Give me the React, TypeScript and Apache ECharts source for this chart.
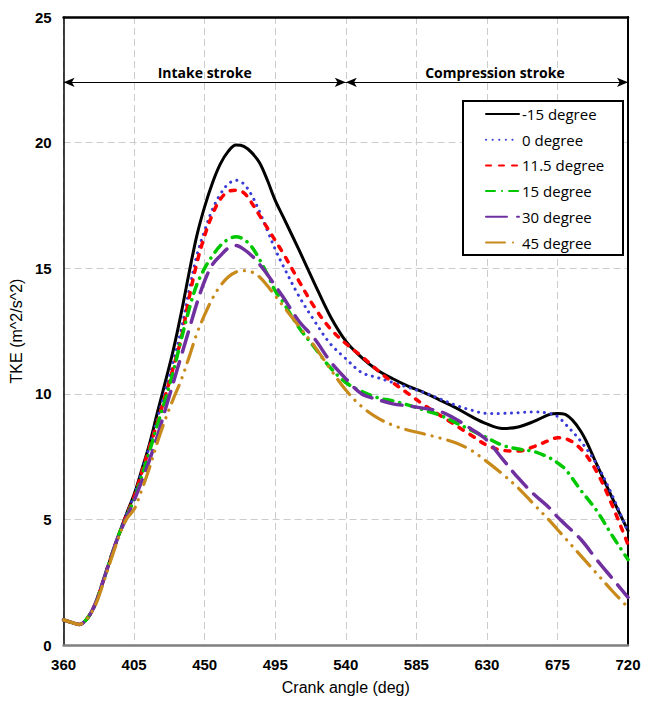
import React, { useEffect, useRef } from "react";
import * as echarts from "echarts";

const angles = [360,365,370,375,380,385,390,395,400,405,410,415,420,425,430,435,440,445,450,455,460,465,470,475,480,485,490,495,500,510,520,530,540,550,560,570,580,590,600,610,620,630,640,650,660,670,675,680,690,700,710,720];

const seriesNames = ["-15 degree", "0 degree", "11.5 degree", "15 degree", "30 degree", "45 degree"];

const tkeM15 = [1.0,0.9,0.82,1.05,1.6,2.5,3.45,4.35,5.2, 6.0,7.0,8.05,9.3,10.5,11.75,13.2,14.8,16.3,17.45,18.4,19.15,19.65,19.9,19.85,19.6,19.2,18.5,17.7,17.05, 15.75,14.4,13.1,12.1,11.45,10.95,10.6,10.3,10.05,9.75,9.45,9.1,8.8,8.62,8.68,8.9,9.18, 9.22,9.18,8.5,7.2,5.85,4.55];
const tke0 = [1.0,0.9,0.82,1.05,1.6,2.5,3.45,4.35,5.2, 5.95,6.95,7.95,9.05,10.15,11.3,12.55,14.1,15.5,16.5,17.35,17.95,18.35,18.5,18.35,17.9,17.25,16.5,15.75,15.1, 13.9,12.9,12.0,11.4,10.85,10.65,10.45,10.25,10.05,9.8,9.55,9.35,9.22,9.22,9.25,9.28,9.22, 9.1,8.8,8.1,7.2,5.95,4.5];
const tke115 = [1.0,0.9,0.82,1.05,1.6,2.5,3.45,4.35,5.15, 5.9,6.9,7.9,8.9,9.95,11.05,12.2,13.8,15.2,16.3,17.15,17.75,18.05,18.1,18.0,17.6,17.1,16.6,16.1,15.6, 14.5,13.45,12.6,12.0,11.5,10.95,10.45,10.0,9.55,9.15,8.75,8.35,7.95,7.75,7.72,7.9,8.15, 8.25,8.22,7.8,6.9,5.55,4.0];
const tke15 = [1.0,0.9,0.82,1.05,1.6,2.5,3.45,4.35,5.1, 5.8,6.75,7.75,8.8,9.8,10.9,12.15,13.35,14.35,15.0,15.5,15.9,16.15,16.25,16.15,15.85,15.35,14.75,14.1,13.65, 12.65,11.85,11.05,10.45,10.1,9.85,9.72,9.55,9.35,9.15,8.85,8.55,8.25,7.95,7.8,7.7,7.45, 7.25,7.0,6.15,5.35,4.35,3.4];
const tke30 = [1.0,0.9,0.82,1.05,1.6,2.5,3.45,4.35,5.05, 5.75,6.55,7.4,8.35,9.4,10.45,11.5,12.55,13.6,14.5,15.15,15.5,15.8,15.9,15.75,15.5,15.15,14.75,14.3,13.85, 12.9,12.2,11.3,10.6,10.0,9.78,9.6,9.52,9.42,9.3,9.0,8.6,8.15,7.4,6.65,6.0,5.45, 5.1,4.8,4.2,3.4,2.65,1.9];
const tke45 = [1.0,0.9,0.82,1.05,1.55,2.4,3.35,4.25,5.0, 5.4,6.2,7.1,8.1,9.0,9.8,10.55,11.45,12.4,13.15,13.8,14.3,14.65,14.85,14.9,14.85,14.65,14.3,13.9,13.5, 12.7,11.9,11.0,10.15,9.5,9.05,8.75,8.55,8.4,8.24,8.05,7.75,7.3,6.8,6.25,5.6,4.95, 4.6,4.25,3.55,2.85,2.15,1.5];

const strokes = [
  { name: "Intake stroke", from: 360, to: 540, level: 22.4, shift: 0 },
  { name: "Compression stroke", from: 540, to: 720, level: 22.4, shift: 16 },
];

const numFont = "'Liberation Sans Narrow', 'Liberation Sans', Arial, sans-serif";
const textFont = "'Open Sans', Lato, sans-serif";

const styles: any[] = [
  { color: "#000000", width: 3, type: "solid", cap: "round" },
  { color: "#3a3ad8", width: 3, type: [0.1, 6.5], cap: "round" },
  { color: "#ff0000", width: 3.5, type: [5, 8], cap: "round" },
  { color: "#00c800", width: 3.5, type: [9, 7, 0.1, 7], cap: "round" },
  { color: "#7030a0", width: 3.5, type: [21, 10], cap: "round" },
  { color: "#c98a1c", width: 3.2, type: [19, 8, 0.1, 8, 0.1, 8], cap: "round" },
];

export default function App() {
  const ref = useRef<HTMLDivElement>(null);
  useEffect(() => {
    if (!ref.current) return;
    const chart = echarts.init(ref.current, undefined, { renderer: "svg" });
    const all = [tkeM15, tke0, tke115, tke15, tke30, tke45];
    const series: any[] = all.map((vals, i) => ({
      name: seriesNames[i],
      type: "line",
      data: angles.map((a, j) => [a, vals[j]]),
      smooth: 0.35,
      showSymbol: false,
      symbol: "none",
      color: styles[i].color,
      lineStyle: { ...styles[i] },
      z: 2 + i,
    }));
    series[0].markLine = {
      silent: true,
      symbol: ["arrow", "arrow"],
      symbolSize: [7, 11],
      lineStyle: { color: "#000", width: 1, type: "solid" },
      label: {
        show: true,
        position: "middle",
        distance: 3,
        color: "#000",
        fontWeight: "bold",
        fontSize: 14,
        fontFamily: textFont,
        formatter: (p: any) => p.name,
      },
      data: strokes.map((s) => [
        { name: s.name, coord: [s.from, s.level], label: { padding: [0, 0, 0, s.shift] } },
        { coord: [s.to, s.level] },
      ]),
    };
    const frameAxis = {
      type: "value",
      axisLabel: { show: false },
      axisTick: { show: false },
      splitLine: { show: false },
    };
    chart.setOption({
      animation: false,
      grid: { left: 62, right: 26, top: 17, bottom: 57, show: false },
      graphic: [
        {
          type: "rect",
          shape: { x: 463, y: 101, width: 160, height: 154 },
          style: { fill: "#fff", stroke: "#000", lineWidth: 2 },
          z: 50,
        },
      ],
      legend: {
        show: true,
        orient: "vertical",
        left: 485,
        top: 105,
        padding: 0,
        itemWidth: 33,
        itemHeight: 14,
        itemGap: 7.7,
        z: 60,
        itemStyle: { opacity: 0 },
        textStyle: { fontSize: 15, color: "#000", fontFamily: textFont, lineHeight: 18, padding: [0, 0, 0, -2] },
        data: seriesNames,
      },
      xAxis: [
        {
          type: "value",
          min: 360,
          max: 720,
          interval: 45,
          name: "Crank angle (deg)",
          nameLocation: "middle",
          nameGap: 34,
          nameTextStyle: { fontSize: 16, color: "#000", fontFamily: "'Liberation Sans', Arial, sans-serif" },
          axisLine: { show: true, onZero: false, lineStyle: { color: "#7f7f7f", width: 2.5 } },
          axisTick: { show: false },
          axisLabel: { color: "#000", fontWeight: "bold", fontSize: 15, margin: 12, fontFamily: numFont },
          splitLine: { show: true, lineStyle: { color: "#cccccc", type: [7, 4], width: 1 } },
        },
        {
          ...frameAxis,
          position: "top",
          min: 360,
          max: 720,
          axisLine: { show: true, onZero: false, lineStyle: { color: "#000", width: 2.5 } },
        },
      ],
      yAxis: [
        {
          type: "value",
          min: 0,
          max: 25,
          interval: 5,
          name: "TKE (m^2/s^2)",
          nameLocation: "middle",
          nameGap: 27,
          nameTextStyle: { fontSize: 16, color: "#000", fontFamily: "'Liberation Sans', Arial, sans-serif" },
          axisLine: { show: true, onZero: false, lineStyle: { color: "#000", width: 1.5 } },
          axisTick: { show: false },
          axisLabel: { color: "#000", fontWeight: "bold", fontSize: 15, margin: 12, fontFamily: numFont },
          splitLine: { show: true, lineStyle: { color: "#cccccc", type: [7, 4], width: 1 } },
        },
        {
          ...frameAxis,
          position: "right",
          min: 0,
          max: 25,
          axisLine: { show: true, onZero: false, lineStyle: { color: "#000", width: 2 } },
        },
      ],
      series,
    });
    return () => chart.dispose();
  }, []);
  return (
    <div
      ref={ref}
      style={{ position: "fixed", left: 0, top: 0, width: 654, height: 702, background: "#fff" }}
    />
  );
}
